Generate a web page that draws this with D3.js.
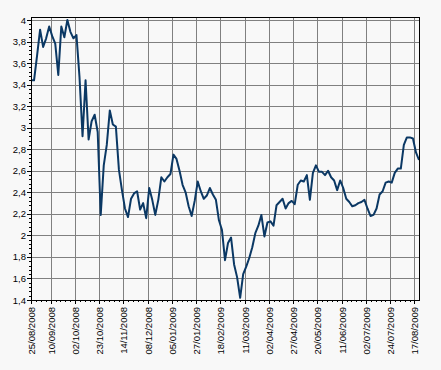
<!DOCTYPE html>
<html>
<head>
<meta charset="utf-8">
<script src="https://cdn.jsdelivr.net/npm/d3@7"></script>
<style>
body { margin: 0; background: #f8f8f8; }
text { font-family: "Liberation Sans", Arial, sans-serif; font-size: 9.5px; fill: #000; }
</style>
</head>
<body>
<script>
// one value every 2 trading days, 25/08/2008 -> 21/08/2009
var values = [3.44,3.44,3.67,3.91,3.75,3.83,3.94,3.85,3.78,3.49,
  3.94,3.84,4.00,3.89,3.83,3.86,3.47,2.92,3.44,2.89,
  3.06,3.12,2.96,2.19,2.65,2.84,3.16,3.03,3.01,2.61,
  2.42,2.25,2.17,2.34,2.39,2.41,2.24,2.30,2.16,2.44,
  2.33,2.19,2.33,2.54,2.50,2.54,2.57,2.75,2.71,2.60,
  2.47,2.40,2.27,2.18,2.32,2.50,2.41,2.34,2.37,2.44,
  2.38,2.33,2.14,2.05,1.77,1.93,1.98,1.73,1.61,1.42,
  1.64,1.71,1.79,1.89,2.02,2.09,2.19,1.99,2.12,2.13,
  2.09,2.28,2.31,2.34,2.25,2.30,2.32,2.29,2.47,2.51,
  2.50,2.56,2.33,2.58,2.65,2.59,2.59,2.56,2.60,2.54,
  2.51,2.42,2.51,2.44,2.34,2.31,2.27,2.28,2.30,2.31,
  2.33,2.25,2.18,2.19,2.25,2.38,2.41,2.49,2.50,2.49,
  2.58,2.62,2.62,2.84,2.91,2.91,2.90,2.77,2.70];

var tickLabels = ["25/08/2008","10/09/2008","02/10/2008","23/10/2008","14/11/2008",
  "08/12/2008","05/01/2009","27/01/2009","18/02/2009","11/03/2009","02/04/2009",
  "27/04/2009","20/05/2009","11/06/2009","02/07/2009","24/07/2009","17/08/2009"];
// trading day of each label
var tickDays = [0,13,29,45,61,77,93,109,125,141,157,173,189,205,221,237,253];

var yTicks = [1.4,1.6,1.8,2,2.2,2.4,2.6,2.8,3,3.2,3.4,3.6,3.8,4];

var width = 441, height = 370;
var pLeft = 31, pRight = 419, pTop = 17, pBottom = 300;

var svg = d3.select("body").append("svg")
  .attr("width", width)
  .attr("height", height);

svg.append("rect")
  .attr("width", width)
  .attr("height", height)
  .attr("fill", "#f8f8f8");

var x = d3.scaleLinear().domain([0, 256]).range([pLeft, pRight]);
var y = d3.scaleLinear().domain([1.4, 4 + 3 / 107.7]).range([pBottom, pTop]);

var comma = d3.formatLocale({decimal: ",", thousands: ".", grouping: [3], currency: ["", ""]}).format(".1~f");

// minor tick positions
var yMinor = [];
yTicks.forEach(function(t, i) {
  if (i < yTicks.length - 1) {
    for (var k = 1; k < 5; k++) yMinor.push(t + k * 0.04);
  }
});
var xMinor = [];
for (var d = 13 - 3.2 * 4; d <= 256; d += 3.2) {
  if (d > 0) xMinor.push(d);
}

// grid
svg.append("g")
  .attr("class", "grid")
  .attr("transform", "translate(" + pLeft + ",0)")
  .call(d3.axisLeft(y).tickValues(yTicks).tickSize(-(pRight - pLeft)).tickFormat(""))
  .call(function(g) { g.select(".domain").remove(); });

svg.append("g")
  .attr("class", "grid")
  .attr("transform", "translate(0," + pTop + ")")
  .call(d3.axisBottom(x).tickValues(tickDays.slice(1)).tickSize(pBottom - pTop).tickFormat(""))
  .call(function(g) { g.select(".domain").remove(); });

svg.selectAll(".grid line")
  .attr("stroke", "#808080")
  .attr("shape-rendering", "crispEdges");

// line
var line = d3.line()
  .x(function(d, i) { return x(i * 2); })
  .y(function(d) { return y(d); });

svg.append("path")
  .datum(values)
  .attr("fill", "none")
  .attr("stroke", "#0b3864")
  .attr("stroke-width", 2)
  .attr("stroke-linejoin", "round")
  .attr("d", line);

// frame
svg.append("rect")
  .attr("x", pLeft)
  .attr("y", pTop)
  .attr("width", pRight - pLeft)
  .attr("height", pBottom - pTop)
  .attr("fill", "none")
  .attr("stroke", "#000")
  .attr("shape-rendering", "crispEdges");

// y axis
svg.append("g")
  .attr("transform", "translate(" + pLeft + ",0)")
  .call(d3.axisLeft(y).tickValues(yMinor).tickSize(2).tickFormat(""))
  .call(function(g) { g.select(".domain").remove(); });

svg.append("g")
  .attr("transform", "translate(" + pLeft + ",0)")
  .call(d3.axisLeft(y).tickValues(yTicks).tickSize(4).tickPadding(1).tickFormat(comma))
  .call(function(g) { g.select(".domain").remove(); });

// x axis
svg.append("g")
  .attr("transform", "translate(0," + pBottom + ")")
  .call(d3.axisBottom(x).tickValues(xMinor).tickSize(2).tickFormat(""))
  .call(function(g) { g.select(".domain").remove(); });

var xAxis = svg.append("g")
  .attr("transform", "translate(0," + pBottom + ")")
  .call(d3.axisBottom(x).tickValues(tickDays).tickSize(4).tickFormat(function(d, i) { return tickLabels[i]; }))
  .call(function(g) { g.select(".domain").remove(); });

xAxis.selectAll("text")
  .attr("transform", "rotate(-90)")
  .attr("text-anchor", "end")
  .attr("x", -7)
  .attr("y", 0)
  .attr("dy", "0.35em");

svg.selectAll("g.tick line")
  .attr("shape-rendering", "crispEdges");
svg.selectAll("text")
  .attr("font-size", "9.5px")
  .attr("font-family", "Liberation Sans, Arial, sans-serif");
</script>
</body>
</html>
